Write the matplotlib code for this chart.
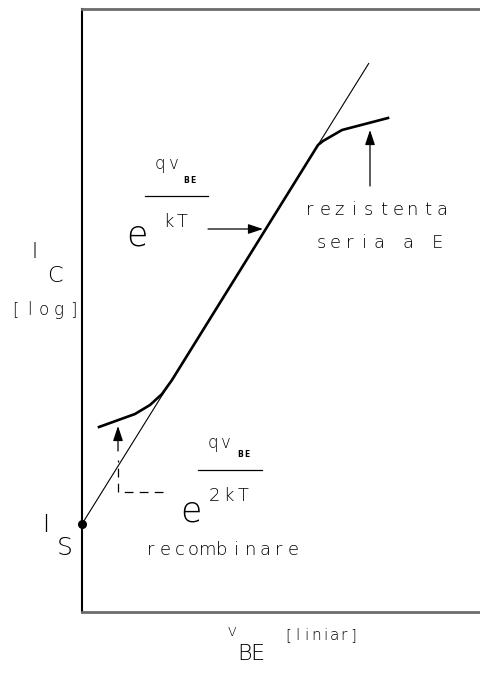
import matplotlib
matplotlib.use("Agg")
import matplotlib.pyplot as plt
import numpy as np

plt.rcParams['font.family'] = ['DejaVu Sans']

# ideal exponential characteristic (log I_C vs V_BE), starting at I_S
ideal_vbe = [0, 287]
ideal_ic = [88, 549]

# real characteristic: recombination at low bias, series resistance at high bias
real_vbe = [17, 53, 68, 80, 90, 236, 241, 260, 306]
real_ic = [185, 198, 207, 218, 232, 467, 471, 482, 494]

# saturation current point
is_vbe = [0]
is_ic = [88]

fig = plt.figure(figsize=(4.8, 6.77), dpi=100)
ax = fig.add_axes([82/480, 65/677, 398/480, 603/677])
ax.set_xlim(0, 398)
ax.set_ylim(0, 603)
ax.set_xticks([])
ax.set_yticks([])
ax.spines['right'].set_visible(False)
ax.spines['left'].set_color('black')
ax.spines['left'].set_linewidth(1.5)
for s in ['top', 'bottom']:
    ax.spines[s].set_color('#6b6b6b')
    ax.spines[s].set_linewidth(2)

ax.plot(ideal_vbe, ideal_ic, color='black', lw=0.8, solid_capstyle='butt')
ax.plot(real_vbe, real_ic, color='black', lw=1.9, solid_joinstyle='round')
ax.plot(is_vbe, is_ic, 'o', color='black', ms=5.5, clip_on=False, zorder=5)

arrow = dict(arrowstyle='-|>,head_length=0.9,head_width=0.3', color='black', lw=0.9,
             shrinkA=0, shrinkB=0)
# series resistance arrow
ax.annotate('', xy=(288, 482), xytext=(288, 426), arrowprops=arrow)
# kT arrow
ax.annotate('', xy=(181, 383), xytext=(126, 383), arrowprops=arrow)
# recombination arrow with dashed corner
ax.plot([81, 36, 36], [120, 120, 152], color='black', lw=0.9, dashes=(7, 5))
ax.annotate('', xy=(36, 186), xytext=(36, 161), arrowprops=arrow)


def spaced(x, y, s, pitch, size, **kw):
    for i, ch in enumerate(s):
        if ch != ' ':
            ax.text(x + i * pitch, y, ch, ha='center', va='baseline',
                    fontsize=size, clip_on=False, **kw)


thin = dict(fontweight='light')

# upper exponent qV_BE / kT
spaced(78, 443, 'qv', 14, 12, **thin)
spaced(104, 429, 'BE', 6.5, 5.5, fontweight='bold')
ax.plot([63, 126], [416, 416], color='black', lw=0.9)
spaced(86, 385, 'kT', 14, 13, **thin)
spaced(55, 366, 'e', 0, 25, **thin)

# lower exponent qV_BE / 2kT
spaced(131, 164, 'qv', 13, 12, **thin)
spaced(158, 155, 'BE', 6.5, 5.5, fontweight='bold')
ax.plot([116, 180], [142, 142], color='black', lw=0.9)
spaced(132, 111, '2kT', 14.5, 13, **thin)
spaced(109, 90, 'e', 0, 25, **thin)

spaced(69, 57, 'recombinare', 14.2, 13, **thin)
spaced(228, 397, 'rezistenta', 14.7, 13, **thin)
spaced(239, 364, 'seria a E', 14.5, 13, **thin)

# axis labels
spaced(-47, 354, 'I', 0, 15, **thin)
spaced(-27, 330, 'C', 0, 16, **thin)
spaced(-67, 297, '[log]', 14.5, 12, **thin)

spaced(-36, 80, 'I', 0, 17, **thin)
spaced(-17, 57, 'S', 0, 18, **thin)

spaced(150, -24, 'V', 0, 9, **thin)
spaced(162, -48, 'BE', 13, 16, **thin)
spaced(206, -28, '[liniar]', 9.3, 11, **thin)

fig.savefig('out.png', dpi=100)
